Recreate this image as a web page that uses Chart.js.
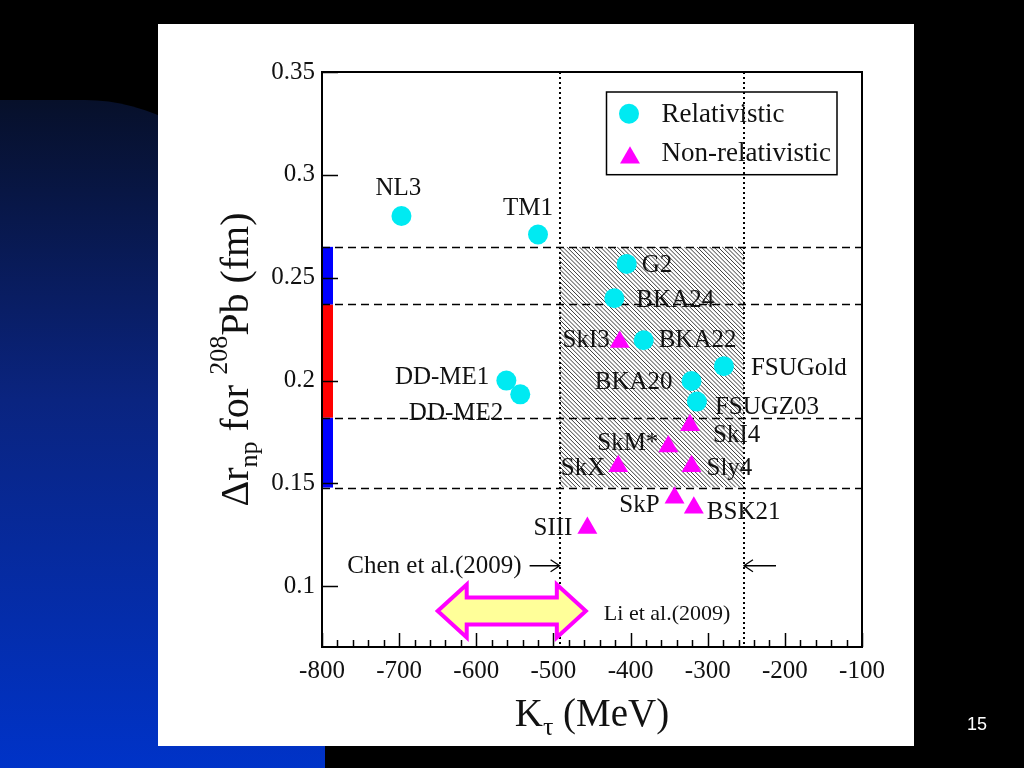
<!DOCTYPE html>
<html><head><meta charset="utf-8">
<script src="https://cdn.jsdelivr.net/npm/chart.js@4.4.1/dist/chart.umd.min.js"></script>
<style>
html,body{margin:0;padding:0;background:#000;width:1024px;height:768px;overflow:hidden;}
#blue{position:absolute;left:0;top:100px;width:325px;height:668px;border-top-right-radius:240px 320px;background:linear-gradient(#07102a 0%, #0a2480 45%, #0033c8 100%);}
#paper{position:absolute;left:158px;top:24px;width:756px;height:722px;background:#fff;}
#wrap{position:absolute;left:0;top:0;width:1024px;height:768px;}
#pnum{position:absolute;left:960px;top:714px;width:34px;text-align:center;color:#fff;font:18px "Liberation Sans",Arial,sans-serif;}
</style></head>
<body>
<div id="blue"></div><div id="paper"></div>
<div id="wrap"><canvas id="c" width="1024" height="768"></canvas></div>
<div id="pnum">15</div>
<script>
// ---- data ----
const relNames = ['NL3','TM1','G2','BKA24','BKA22','FSUGold','BKA20','FSUGZ03','DD-ME1','DD-ME2'];
const relK = [-697,-520,-405,-421,-383,-279,-321,-314,-561,-543];
const relR = [0.280,0.271,0.2567,0.240,0.2196,0.207,0.1998,0.1898,0.200,0.1933];
const nonNames = ['SkI3','SkI4','SkM*','SkX','Sly4','SkP','BSK21','SIII'];
const nonK = [-414,-323,-351,-416,-321,-343,-318,-456];
const nonR = [0.2187,0.1783,0.168,0.1584,0.1584,0.1431,0.1382,0.1283];
const xTicks = [-800,-700,-600,-500,-400,-300,-200,-100];
const yTicks = [0.1,0.15,0.2,0.25,0.3,0.35];
const bandLimits = [0.148,0.182,0.237,0.265];
const chenRange = [-492,-253];
const chenArrowR = 0.11;
const liRange = [-650,-458];
const liArrowR = 0.088;

// ---- styles ----
const SERIF = '"Liberation Serif","Times New Roman",Times,serif';
const CYAN = '#00eaf2';
const MAG = '#ff00ff';
const bandColors = ['#0000ff','#ff0000','#0000ff'];
const labelStyle = {
 'NL3':['center',-3,-21],
 'TM1':['center',-10,-20],
 'G2':['left',15,8],
 'BKA24':['left',22,9],
 'BKA22':['left',15,7],
 'FSUGold':['left',27,9],
 'BKA20':['right',-19,8],
 'FSUGZ03':['left',18,12],
 'DD-ME1':['right',-17,3],
 'DD-ME2':['right',-17,26],
 'SkI3':['right',-10,5],
 'SkI4':['left',23,17],
 'SkM*':['right',-10,4],
 'SkX':['right',-13,9],
 'Sly4':['left',15,9],
 'SkP':['right',-15,14],
 'BSK21':['left',13,11],
 'SIII':['right',-15,7]
};

function drawRich(ctx, parts, x, y, align){
  let total = 0;
  parts.forEach(p=>{ctx.font = p.s+'px '+SERIF; p.w = ctx.measureText(p.t).width; total += p.w;});
  let cx = align==='center' ? x - total/2 : x;
  ctx.textAlign='left'; ctx.textBaseline='alphabetic';
  parts.forEach(p=>{ctx.font = p.s+'px '+SERIF; ctx.fillText(p.t, cx, y + (p.dy||0)); cx += p.w;});
}

const decor = {
  id:'decor',
  beforeDatasetsDraw(chart){
    const {ctx, chartArea:a, scales:{x,y}} = chart;
    ctx.save();
    // hatched region
    const hx1=x.getPixelForValue(chenRange[0]), hx2=x.getPixelForValue(chenRange[1]);
    const hy1=y.getPixelForValue(bandLimits[3]), hy2=y.getPixelForValue(bandLimits[0]);
    ctx.save();
    ctx.beginPath(); ctx.rect(hx1,hy1,hx2-hx1,hy2-hy1); ctx.clip();
    ctx.strokeStyle='#3a3a3a'; ctx.lineWidth=1;
    const h = hy2-hy1;
    ctx.beginPath();
    for(let s=hx1-h; s<hx2; s+=4.2){ ctx.moveTo(s,hy1); ctx.lineTo(s+h,hy2); }
    ctx.stroke();
    ctx.restore();
    // colored bands on left
    for(let i=0;i<3;i++){
      const t=y.getPixelForValue(bandLimits[i+1]), b=y.getPixelForValue(bandLimits[i]);
      ctx.fillStyle=bandColors[i];
      ctx.fillRect(a.left, t, 11, b-t);
    }
    // dashed horizontal lines
    ctx.strokeStyle='#000'; ctx.lineWidth=1.5; ctx.setLineDash([8,5]);
    bandLimits.forEach(v=>{const py=Math.round(y.getPixelForValue(v))+0.5; ctx.beginPath(); ctx.moveTo(a.left,py); ctx.lineTo(a.right,py); ctx.stroke();});
    // dotted verticals
    ctx.lineWidth=2; ctx.setLineDash([2,3]);
    chenRange.forEach(v=>{const px=Math.round(x.getPixelForValue(v)); ctx.beginPath(); ctx.moveTo(px,a.top); ctx.lineTo(px,a.bottom); ctx.stroke();});
    ctx.setLineDash([]);
    // Chen arrows
    const ya = y.getPixelForValue(chenArrowR);
    const xl = x.getPixelForValue(chenRange[0]), xr = x.getPixelForValue(chenRange[1]);
    ctx.lineWidth=1.3; ctx.strokeStyle='#000';
    ctx.beginPath(); ctx.moveTo(xl-30,ya); ctx.lineTo(xl,ya); ctx.moveTo(xl-9,ya-6); ctx.lineTo(xl,ya); ctx.lineTo(xl-9,ya+6); ctx.stroke();
    ctx.beginPath(); ctx.moveTo(xr+32,ya); ctx.lineTo(xr,ya); ctx.moveTo(xr+9,ya-6); ctx.lineTo(xr,ya); ctx.lineTo(xr+9,ya+6); ctx.stroke();
    ctx.fillStyle='#111'; ctx.font='25px '+SERIF; ctx.textAlign='right'; ctx.textBaseline='alphabetic';
    ctx.fillText('Chen et al.(2009)', xl-38, ya+7);
    // Li double arrow
    const lx1=x.getPixelForValue(liRange[0]), lx2=x.getPixelForValue(liRange[1]), ly=y.getPixelForValue(liArrowR);
    const hl=29, hh=26.5, sh=13.5;
    ctx.beginPath();
    ctx.moveTo(lx1,ly); ctx.lineTo(lx1+hl,ly-hh); ctx.lineTo(lx1+hl,ly-sh); ctx.lineTo(lx2-hl,ly-sh); ctx.lineTo(lx2-hl,ly-hh);
    ctx.lineTo(lx2,ly); ctx.lineTo(lx2-hl,ly+hh); ctx.lineTo(lx2-hl,ly+sh); ctx.lineTo(lx1+hl,ly+sh); ctx.lineTo(lx1+hl,ly+hh); ctx.closePath();
    ctx.fillStyle='#ffff99'; ctx.fill(); ctx.strokeStyle=MAG; ctx.lineWidth=4; ctx.lineJoin='miter'; ctx.stroke();
    ctx.fillStyle='#111'; ctx.font='22px '+SERIF; ctx.textAlign='left';
    ctx.fillText('Li et al.(2009)', lx2+18, ly+9);
    ctx.restore();
  },
  afterDatasetsDraw(chart){
    const {ctx} = chart;
    ctx.save();
    ctx.fillStyle='#111'; ctx.font='25px '+SERIF; ctx.textBaseline='alphabetic';
    chart.data.datasets.forEach((ds,di)=>{
      const meta = chart.getDatasetMeta(di);
      meta.data.forEach((el,i)=>{
        const name = ds.data[i].name; const st = labelStyle[name];
        ctx.textAlign = st[0];
        ctx.fillText(name, el.x+st[1], el.y+st[2]);
      });
    });
    ctx.restore();
  },
  afterDraw(chart){
    const {ctx, chartArea:a, scales:{x,y}} = chart;
    ctx.save();
    ctx.strokeStyle='#000';
    // ticks
    ctx.lineWidth=1.5;
    ctx.beginPath();
    for(let v=xTicks[0]; v<=xTicks[xTicks.length-1]; v+=20){
      const px=Math.round(x.getPixelForValue(v))+0.5;
      const major = xTicks.some(t=>Math.abs(t-v)<1e-6);
      ctx.moveTo(px,a.bottom); ctx.lineTo(px,a.bottom-(major?14:7));
    }
    yTicks.forEach(v=>{const py=Math.round(y.getPixelForValue(v))+0.5; ctx.moveTo(a.left,py); ctx.lineTo(a.left+16,py);});
    ctx.stroke();
    // frame
    ctx.lineWidth=2;
    ctx.strokeRect(a.left, a.top, a.right-a.left, a.bottom-a.top);
    // legend
    const L=a.right-255.5, T=a.top+20, W=230.5, H=82.7;
    ctx.lineWidth=1.5; ctx.strokeRect(L,T,W,H);
    ctx.fillStyle=CYAN; ctx.beginPath(); ctx.arc(L+22.5,T+21.7,10,0,Math.PI*2); ctx.fill();
    const tx=L+23.5, ty=T+65.7, r=11.5;
    ctx.fillStyle=MAG; ctx.beginPath();
    for(let k=0;k<3;k++){const ang=-Math.PI/2+k*2*Math.PI/3; const px=tx+r*Math.cos(ang), py=ty+r*Math.sin(ang); if(k===0)ctx.moveTo(px,py); else ctx.lineTo(px,py);}
    ctx.closePath(); ctx.fill();
    ctx.fillStyle='#111'; ctx.font='27px '+SERIF; ctx.textAlign='left'; ctx.textBaseline='alphabetic';
    ctx.fillText(chart.data.datasets[0].label, L+55, T+29.5);
    ctx.fillText(chart.data.datasets[1].label, L+55, T+69.4);
    // axis titles
    ctx.fillStyle='#111';
    drawRich(ctx,[{t:'K',s:39},{t:'\u03c4',s:26,dy:9},{t:' (MeV)',s:39}], (a.left+a.right)/2, 726, 'center');
    ctx.translate(248,(a.top+a.bottom)/2); ctx.rotate(-Math.PI/2);
    drawRich(ctx,[{t:'\u0394r',s:40},{t:'np',s:26,dy:9},{t:' for ',s:40},{t:'208',s:26,dy:-21},{t:'Pb (fm)',s:40}], 0, 0, 'center');
    ctx.restore();
  }
};

new Chart(document.getElementById('c'), {
  type:'scatter',
  data:{datasets:[
    {label:'Relativistic', data:relK.map((k,i)=>({x:k,y:relR[i],name:relNames[i]})), pointStyle:'circle', pointRadius:10, pointHoverRadius:10, backgroundColor:CYAN, borderColor:CYAN, borderWidth:0},
    {label:'Non-relativistic', data:nonK.map((k,i)=>({x:k,y:nonR[i],name:nonNames[i]})), pointStyle:'triangle', pointRadius:11.5, pointHoverRadius:11.5, backgroundColor:MAG, borderColor:MAG, borderWidth:0}
  ]},
  options:{
    responsive:false, animation:false, devicePixelRatio:1,
    layout:{padding:{left:0,top:72,right:162,bottom:0}},
    plugins:{legend:{display:false}, tooltip:{enabled:false}},
    events:[],
    scales:{
      x:{type:'linear', min:-800, max:-100,
        grid:{display:false, drawTicks:false}, border:{display:false},
        afterBuildTicks:s=>{s.ticks = xTicks.map(v=>({value:v}));},
        afterFit:s=>{s.height=121;},
        ticks:{color:'#111', font:{family:SERIF,size:25}, padding:9, maxRotation:0, autoSkip:false, callback:v=>String(v)}},
      y:{type:'linear', min:0.0705, max:0.35,
        grid:{display:false, drawTicks:false}, border:{display:false},
        afterBuildTicks:s=>{s.ticks = yTicks.map(v=>({value:v}));},
        afterFit:s=>{s.width=322;},
        ticks:{color:'#111', font:{family:SERIF,size:25}, padding:7, autoSkip:false, callback:v=>String(v)}}
    }
  },
  plugins:[decor]
});
</script>
</body></html>
